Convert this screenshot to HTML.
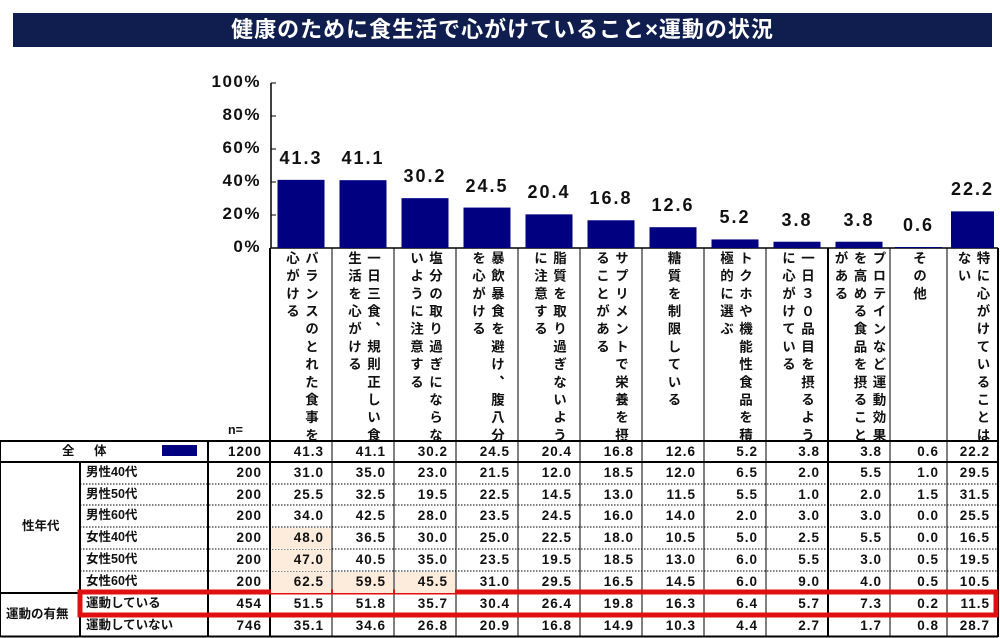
<!DOCTYPE html>
<html><head><meta charset="utf-8">
<style>
*{margin:0;padding:0;box-sizing:border-box}
body{width:1000px;height:638px;background:#fff;position:relative;overflow:hidden;font-family:"Liberation Sans","Noto Sans CJK JP",sans-serif;color:#111}
.a{position:absolute}
#title{left:13px;top:13px;width:979px;height:34px;background:#0f1e4e;color:#fff;font-size:22px;font-weight:bold;text-align:center;line-height:34px;letter-spacing:1px}
.yl{font-size:17px;font-weight:bold;text-align:right;width:60px;letter-spacing:1.5px}
.vl{font-size:14px;font-weight:bold;letter-spacing:1px;text-align:center}
.vt{writing-mode:vertical-rl;text-orientation:upright;font-size:13.5px;font-weight:bold;letter-spacing:4.2px;line-height:19px;white-space:pre}
.cell{font-size:13.5px;font-weight:bold;letter-spacing:1px;text-align:right;line-height:21px;height:21px}
.lab{font-size:12.5px;font-weight:bold;line-height:21px;height:21px}
.hl{background:#fdebdc}
</style></head><body>
<div id="title" class="a">健康のために食生活で心がけていること×運動の状況</div>
<svg id="svg" class="a" style="left:0;top:0" width="1000" height="638"></svg>
<div id="layer" class="a" style="left:0;top:0;width:1000px;height:638px"></div>
<script>
const categories=["バランスのとれた食事を\n心がける","一日三食、規則正しい食\n生活を心がける","塩分の取り過ぎにならな\nいように注意する","暴飲暴食を避け、腹八分\nを心がける","脂質を取り過ぎないよう\nに注意する","サプリメントで栄養を摂\nることがある","糖質を制限している","トクホや機能性食品を積\n極的に選ぶ","一日３０品目を摂るよう\nに心がけている","プロテインなど運動効果\nを高める食品を摂ること\nがある","その他","特に心がけていることは\nない"];
const totalValues=[41.3,41.1,30.2,24.5,20.4,16.8,12.6,5.2,3.8,3.8,0.6,22.2];
const yTicks=[0,20,40,60,80,100];
const rowLabels=["男性40代","男性50代","男性60代","女性40代","女性50代","女性60代","運動している","運動していない"];
const rowN=[200,200,200,200,200,200,454,746];
const totalN=1200;
const rowValues=[
[31.0,35.0,23.0,21.5,12.0,18.5,12.0,6.5,2.0,5.5,1.0,29.5],
[25.5,32.5,19.5,22.5,14.5,13.0,11.5,5.5,1.0,2.0,1.5,31.5],
[34.0,42.5,28.0,23.5,24.5,16.0,14.0,2.0,3.0,3.0,0.0,25.5],
[48.0,36.5,30.0,25.0,22.5,18.0,10.5,5.0,2.5,5.5,0.0,16.5],
[47.0,40.5,35.0,23.5,19.5,18.5,13.0,6.0,5.5,3.0,0.5,19.5],
[62.5,59.5,45.5,31.0,29.5,16.5,14.5,6.0,9.0,4.0,0.5,10.5],
[51.5,51.8,35.7,30.4,26.4,19.8,16.3,6.4,5.7,7.3,0.2,11.5],
[35.1,34.6,26.8,20.9,16.8,14.9,10.3,4.4,2.7,1.7,0.8,28.7]];

const NS="http://www.w3.org/2000/svg";
const svg=document.getElementById('svg'),layer=document.getElementById('layer');
const colX=[270,332,394,456,518,580,642,704,766,828,890,947,998];
const Y0=248,Y100=83;
function y(v){return Y0-(Y0-Y100)*v/100;}
function colL(i){return colX[i];}
function colW(i){return colX[i+1]-colX[i];}
function line(x1,y1,x2,y2,w,dash){const l=document.createElementNS(NS,'line');l.setAttribute('x1',x1);l.setAttribute('y1',y1);l.setAttribute('x2',x2);l.setAttribute('y2',y2);l.setAttribute('stroke','#000');l.setAttribute('stroke-width',w);if(dash)l.setAttribute('stroke-dasharray',dash);svg.appendChild(l);return l;}
function div(cls,x,yy,w,txt){const d=document.createElement('div');d.className='a '+cls;d.style.left=x+'px';d.style.top=yy+'px';if(w)d.style.width=w+'px';d.textContent=txt;layer.appendChild(d);return d;}

let ax=line(271,Y100,271,Y0,1.5);


line(271,Y0,998,Y0,1.5);
yTicks.forEach(t=>{line(271,y(t),276,y(t),1);
 const d=div('yl',201,y(t)-11,60,t+'%');
 
 });
totalValues.forEach((v,i)=>{
 const bw=Math.min(47,colW(i)-8);const bx=colL(i)+(colW(i)-bw)/2;
 const r=document.createElementNS(NS,'rect');
 r.setAttribute('x',bx);r.setAttribute('y',y(v));r.setAttribute('width',bw);r.setAttribute('height',Math.max(Y0-y(v),1));r.setAttribute('fill','#000080');
 
 
 svg.appendChild(r);
 const d=div('vl',colL(i),y(v)-32,colW(i),v.toFixed(1));
 d.style.fontSize='18px';d.style.letterSpacing='2px';
 
 
});
categories.forEach((c,i)=>{
 const box=document.createElement('div');box.className='a';
 box.style.left=colL(i)+'px';box.style.top='251px';box.style.width=colW(i)+'px';box.style.height='190px';
 box.style.display='flex';box.style.justifyContent='center';
 const t=document.createElement('div');t.className='vt';t.textContent=c;box.appendChild(t);
 
 
 layer.appendChild(box);
});
const rowY=[441,462,484,505,527,549,571,593,615,637];
rowValues.slice(0,6).forEach((r,ri)=>r.forEach((v,ci)=>{if(v>=45){const h=document.createElement('div');h.className='a hl';h.style.left=(colL(ci)+1)+'px';h.style.top=(rowY[ri+1]+1)+'px';h.style.width=(colW(ci)-2)+'px';h.style.height=(rowY[ri+2]-rowY[ri+1]-1)+'px';layer.appendChild(h);}}));
for(let i=0;i<colX.length;i++) line(colX[i],Y0,colX[i],637,i==0||i==9||i==12?2:1);
line(208,441,208,637,2);line(80,462,80,637,2);line(0,441,0,637,2);
line(0,441,998,441,2);line(0,462,998,462,2);line(0,593,998,593,2);line(0,636.5,998,636.5,2);
[484,505,527,549,571].forEach(v=>line(80,v,998,v,1,'1.5,1.5'));
line(80,615,998,615,1,'1.5,1.5');
div('lab',228,420,30,'n=');
const all=div('lab',62,441,60,'全 体');all.style.letterSpacing='8px';
const sw=document.createElement('div');sw.className='a';sw.style.cssText='left:162px;top:445px;width:35px;height:11px;background:#000080';layer.appendChild(sw);


const nt=div('cell',208,441,54,String(totalN));
totalValues.forEach((v,i)=>{const d=div('cell',colL(i),441,colW(i)-8,v.toFixed(1));
 
 });
const g1=div('lab',22,516,60,'性年代');
const g2=div('lab',6,604,74,'運動の有無');
rowLabels.forEach((lb,r)=>{
 const ty=rowY[r+1];
 const l=div('lab',86,ty,120,lb);
 
 
 div('cell',208,ty,54,String(rowN[r]));
 rowValues[r].forEach((v,i)=>{const d=div('cell',colL(i),ty,colW(i)-8,v.toFixed(1));
  
  });
});
const rb=document.createElementNS(NS,'rect');
rb.setAttribute('x',80);rb.setAttribute('y',592);rb.setAttribute('width',916);rb.setAttribute('height',23);
rb.setAttribute('fill','none');rb.setAttribute('stroke','#e01010');rb.setAttribute('stroke-width',5);


svg.appendChild(rb);
</script>
</body></html>
